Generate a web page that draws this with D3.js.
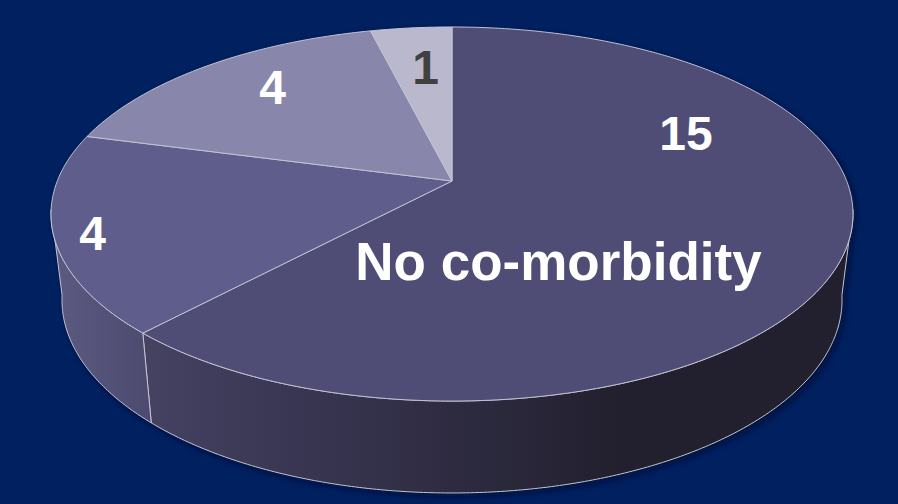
<!DOCTYPE html>
<html>
<head>
<meta charset="utf-8">
<style>
html,body{margin:0;padding:0;background:#00205f;overflow:hidden}
svg{display:block}
text{font-family:"Liberation Sans",Arial,sans-serif;font-weight:700}
</style>
<script src="https://cdn.jsdelivr.net/npm/d3@7/dist/d3.min.js"></script>
</head>
<body>
<script>
const categories = ["No co-morbidity", "Group B", "Group C", "Group D"];
const counts = [15, 4, 4, 1];
const topColors = ["#4f4c75", "#5e5d8b", "#8886aa", "#b9b8cc"];
const valueColors = ["#ffffff", "#ffffff", "#ffffff", "#404040"];

const W = 898, H = 504;
const svg = d3.select("body").append("svg").attr("width", W).attr("height", H);
const defs = svg.append("defs");

// Tilted disc: a point on the unit circle is projected with perspective,
// so the near half of the disc appears larger than the far half.
const tilt = -0.1765;
const nearLean = 0.0785, farLean = -0.078;
const topFace = {cx: 452, cy: 181, a: 394.7, b: 181.2};
const baseFace = {cx: 452, cy: 265.9, a: 383.9, b: 187};
function project(face, theta) {
  const s = Math.sin(theta), c = Math.cos(theta);
  // the camera leans a little, which slides rim positions along the ellipse
  const t = theta
    + nearLean * s * Math.pow((1 - c) / 2, 3)
    + farLean * s * Math.pow((1 + c) / 2, 8);
  const u = Math.sin(t), v = -Math.cos(t), d = 1 + tilt * v;
  return [face.cx + face.a * u / d, face.cy + face.b * v / d];
}
const deg = d3.scaleLinear().domain([0, 360]).range([0, 2 * Math.PI]);
const arcPoints = (face, a0, a1) => {
  const n = Math.max(2, Math.ceil((a1 - a0) / 0.01));
  return d3.range(n + 1).map(i => project(face, a0 + (a1 - a0) * i / n));
};
const line = d3.line();

const slices = d3.pie().sort(null).value(d => d)(counts);

// Side wall limits: where the rim turns away from the viewer
const wallStart = deg(98), wallEnd = deg(262);

// Wall shading runs left to right across each visible piece
function wallGradient(id, x1, x2, stops) {
  const g = defs.append("linearGradient").attr("id", id)
    .attr("gradientUnits", "userSpaceOnUse")
    .attr("x1", x1).attr("x2", x2).attr("y1", 0).attr("y2", 0);
  stops.forEach(s => g.append("stop").attr("offset", s[0]).attr("stop-color", s[1]));
}
wallGradient("wallMain", 145, 620, [[0, "#454262"], [0.32, "#393653"], [1, "#22202e"]]);
wallGradient("wallLeft", 55, 150, [[0, "#5c5a80"], [1, "#4d4a70"]]);

const shadow = defs.append("filter").attr("id", "soft")
  .attr("x", "-5%").attr("y", "-5%").attr("width", "110%").attr("height", "115%");
shadow.append("feGaussianBlur").attr("stdDeviation", 3);

const rim = "#c4c4d4";

// Soft shadow under the disc
const silhouette = arcPoints(topFace, wallEnd, wallStart + 2 * Math.PI)
  .concat(arcPoints(baseFace, wallStart, wallEnd));
svg.append("path").attr("d", line(silhouette) + "Z")
  .attr("fill", "#001033").attr("opacity", 0.8)
  .attr("transform", "translate(3,3)").attr("filter", "url(#soft)");

// Side walls of the two slices facing the viewer
const walls = [
  {a0: wallStart, a1: slices[0].endAngle, fill: "url(#wallMain)"},
  {a0: slices[1].startAngle, a1: wallEnd, fill: "url(#wallLeft)"}
];
svg.selectAll("path.wall").data(walls).join("path").attr("class", "wall")
  .attr("d", d => line(arcPoints(topFace, d.a0, d.a1).concat(arcPoints(baseFace, d.a0, d.a1).reverse())) + "Z")
  .attr("fill", d => d.fill)
  .attr("stroke", rim).attr("stroke-width", 1).attr("stroke-linejoin", "round");

// Top faces
svg.selectAll("path.slice").data(slices).join("path").attr("class", "slice")
  .attr("d", d => line([[topFace.cx, topFace.cy]].concat(arcPoints(topFace, d.startAngle, d.endAngle))) + "Z")
  .attr("fill", (d, i) => topColors[i])
  .attr("stroke", rim).attr("stroke-width", 1).attr("stroke-linejoin", "round");

// Value labels sit where they were placed by hand on the slide
const labelSpots = [[686, 150], [92.5, 250], [272.5, 104], [425.5, 84]];
svg.selectAll("text.value").data(counts).join("text").attr("class", "value")
  .attr("x", (d, i) => labelSpots[i][0])
  .attr("y", (d, i) => labelSpots[i][1])
  .attr("text-anchor", "middle")
  .attr("font-size", 48)
  .attr("fill", (d, i) => valueColors[i])
  .text(d => d);

svg.append("text")
  .attr("x", 558.5).attr("y", 280)
  .attr("text-anchor", "middle").attr("font-size", 53).attr("fill", "#ffffff")
  .text(categories[0]);
</script>
</body>
</html>
